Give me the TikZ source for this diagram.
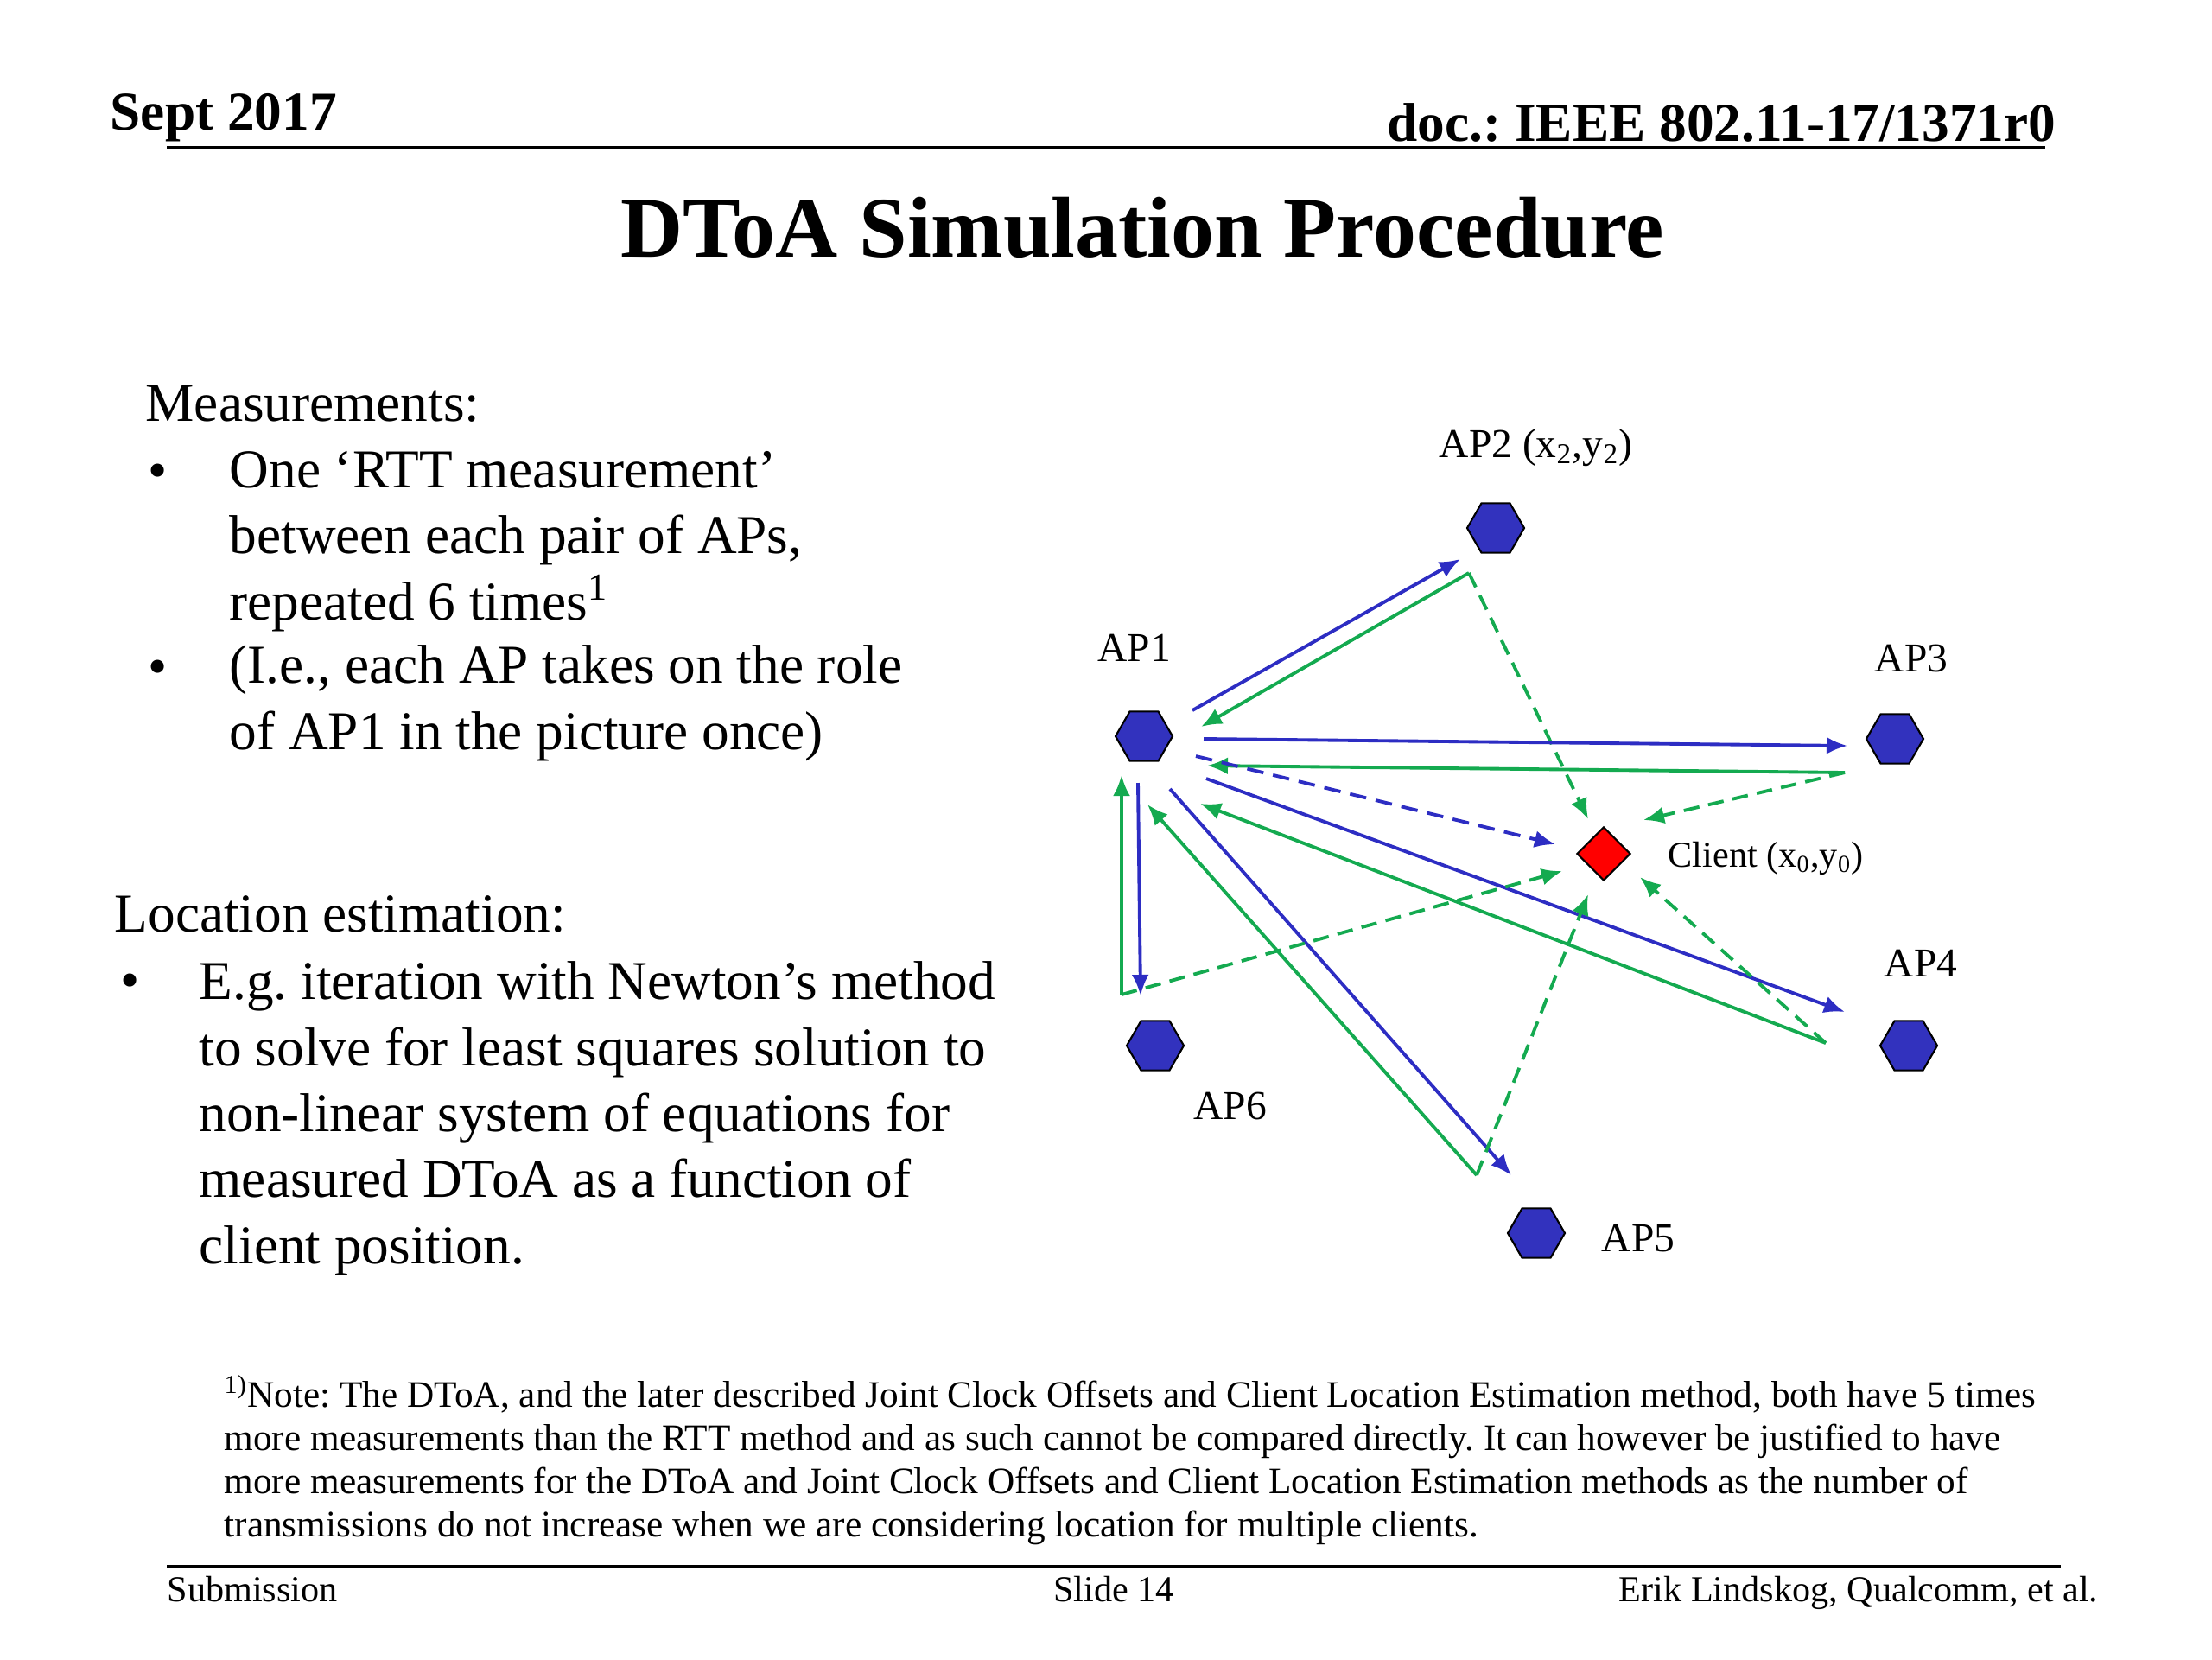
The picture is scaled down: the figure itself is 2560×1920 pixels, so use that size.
\documentclass[tikz,border=0pt]{standalone}
\usepackage{fontspec}
\setmainfont{Liberation Serif}
\usetikzlibrary{arrows.meta,shapes.geometric}

\definecolor{apblue}{RGB}{50,50,190}
\definecolor{linkblue}{RGB}{45,45,195}
\definecolor{linkgreen}{RGB}{20,170,80}

\frenchspacing
\begin{document}
\begin{tikzpicture}[x=0.01cm,y=-0.01cm,>={Latex[length=0.24cm,width=0.2cm]}]
    \tikzstyle{ap}=[regular polygon,regular polygon sides=6,draw=black,line width=0.6pt,fill=apblue,minimum size=0.66cm,inner sep=0pt]
    \tikzstyle{clientbox}=[diamond,draw=black,line width=0.6pt,fill=red,minimum width=0.62cm,minimum height=0.62cm,inner sep=0pt]
    \tikzstyle{lbl}=[inner sep=0pt,anchor=base west,font=\fontsize{13.5}{16}\selectfont]
    \tikzstyle{body}=[inner sep=0pt,anchor=base west,align=left,font=\fontsize{18}{21.7}\selectfont]
    \tikzstyle{small}=[inner sep=0pt,font=\fontsize{12}{14}\selectfont]
    \tikzstyle{tx}=[->,line width=1.1pt,linkblue]
    \tikzstyle{rx}=[->,line width=1.1pt,linkgreen]
    \tikzstyle{txd}=[tx,dash pattern=on 5.5pt off 3.2pt]
    \tikzstyle{rxd}=[rx,dash pattern=on 5.2pt off 3pt]

    \fill[white] (0,0) rectangle (2560,1920);
    \useasboundingbox (0,0) rectangle (2560,1920);

    % header
    \node[inner sep=0pt,anchor=base west,font=\bfseries\fontsize{18}{21}\selectfont] (date) at (127,150) {Sept 2017};
    \node[inner sep=0pt,anchor=base east,font=\bfseries\fontsize{18}{21}\selectfont] (docid) at (2380,163) {doc.: IEEE 802.11-17/1371r0};
    \draw[line width=1pt] (193,171) -- (2367,171);
    \node[inner sep=0pt,anchor=base,font=\bfseries\fontsize{28.4}{34}\selectfont] (title) at (1322,297) {DToA Simulation Procedure};

    % left text (base = last line)
    \node[body] (meashead) at (168,487) {Measurements:};
    \node[body] (bul1) at (171,565) {\textbullet};
    \node[body] (item1) at (265,717) {One ‘RTT measurement’\\between each pair of APs,\\repeated 6 times\textsuperscript{1}};
    \node[body] (bul2) at (171,792) {\textbullet};
    \node[body] (item2) at (265,867) {(I.e., each AP takes on the role\\of AP1 in the picture once)};
    \node[body] (lochead) at (132,1078) {Location estimation:};
    \node[body] (bul3) at (139,1155) {\textbullet};
    \node[body] (item3) at (230,1462) {E.g. iteration with Newton’s method\\to solve for least squares solution to\\non-linear system of equations for\\measured DToA as a function of\\client position.};

    % access points and client
    \node[ap] (ap1) at (1324,852) {};
    \node[ap] (ap2) at (1731,611) {};
    \node[ap] (ap3) at (2193,855) {};
    \node[ap] (ap4) at (2209,1210) {};
    \node[ap] (ap5) at (1778,1427) {};
    \node[ap] (ap6) at (1337,1210) {};
    \node[clientbox] (client) at (1856,988) {};

    \node[lbl] (ap1lbl) at (1270,765) {AP1};
    \node[lbl] (ap2lbl) at (1665,529) {AP2 (x\textsubscript{2},y\textsubscript{2})};
    \node[lbl] (ap3lbl) at (2169,777) {AP3};
    \node[lbl] (ap4lbl) at (2180,1130) {AP4};
    \node[lbl] (ap5lbl) at (1853,1448) {AP5};
    \node[lbl] (ap6lbl) at (1381,1295) {AP6};
    \node[lbl,font=\fontsize{12}{14}\selectfont] (clientlbl) at (1930,1003) {Client (x\textsubscript{0},y\textsubscript{0})};

    % AP1 -> others, others -> AP1 and client
    \draw[tx] ([shift={(56,-30)}]ap1.center) -- ([shift={(-41,36)}]ap2.center);
    \draw[rx] ([shift={(-31,52)}]ap2.center) -- ([shift={(66,-11)}]ap1.center);
    \draw[rxd] ([shift={(-31,52)}]ap2.center) -- ([shift={(-18,-40)}]client.center);

    \draw[tx] ([shift={(69,3)}]ap1.center) -- ([shift={(-55,8)}]ap3.center);
    \draw[rx] ([shift={(-58,39)}]ap3.center) -- ([shift={(73,34)}]ap1.center);
    \draw[rxd] ([shift={(-58,39)}]ap3.center) -- ([shift={(46,-39)}]client.center);

    \draw[txd] ([shift={(60,23)}]ap1.center) -- ([shift={(-56,-11)}]client.center);

    \draw[tx] ([shift={(72,49)}]ap1.center) -- ([shift={(-74,-39)}]ap4.center);
    \draw[rx] ([shift={(-96,-3)}]ap4.center) -- ([shift={(65,78)}]ap1.center);
    \draw[rxd] ([shift={(-96,-3)}]ap4.center) -- ([shift={(42,27)}]client.center);

    \draw[tx] ([shift={(30,61)}]ap1.center) -- ([shift={(-29,-67)}]ap5.center);
    \draw[rx] ([shift={(-69,-67)}]ap5.center) -- ([shift={(4,79)}]ap1.center);
    \draw[rxd] ([shift={(-69,-67)}]ap5.center) -- ([shift={(-18,47)}]client.center);

    \draw[tx] ([shift={(-7,54)}]ap1.center) -- ([shift={(-17,-58)}]ap6.center);
    \draw[rx] ([shift={(-39,-59)}]ap6.center) -- ([shift={(-26,45)}]ap1.center);
    \draw[rxd] ([shift={(-39,-59)}]ap6.center) -- ([shift={(-48,20)}]client.center);

    % footnote and footer
    \node[inner sep=0pt,anchor=base west,align=left,font=\fontsize{12.3}{14.2}\selectfont] (note) at (259,1778) {\textsuperscript{1)}Note: The DToA, and the later described Joint Clock Offsets and Client Location Estimation method, both have 5 times\\more measurements than the RTT method and as such cannot be compared directly. It can however be justified to have\\more measurements for the DToA and Joint Clock Offsets and Client Location Estimation methods as the number of\\transmissions do not increase when we are considering location for multiple clients.};
    \draw[line width=1pt] (193,1813) -- (2385,1813);
    \node[small,anchor=base west] (subm) at (193,1853) {Submission};
    \node[small,anchor=base] (slide) at (1289,1853) {Slide 14};
    \node[small,anchor=base east] (author) at (2429,1853) {Erik Lindskog, Qualcomm, et al.};
\end{tikzpicture}
\end{document}
